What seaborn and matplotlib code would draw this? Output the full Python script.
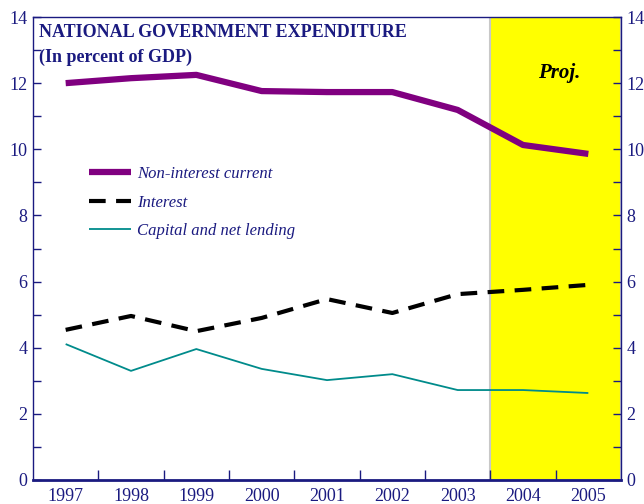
import pandas as pd
import matplotlib
matplotlib.use("Agg")
import matplotlib.pyplot as plt
import seaborn as sns

years = [1997, 1998, 1999, 2000, 2001, 2002, 2003, 2004, 2005]
non_interest = [12.0, 12.15, 12.25, 11.76, 11.73, 11.73, 11.19, 10.13, 9.86]
interest = [4.54, 4.96, 4.5, 4.9, 5.47, 5.05, 5.62, 5.75, 5.9]
capital = [4.11, 3.3, 3.96, 3.36, 3.02, 3.2, 2.72, 2.72, 2.63]

df = pd.DataFrame({'year': years, 'Non-interest current': non_interest,
                   'Interest': interest, 'Capital and net lending': capital})

sns.set_style("ticks")
plt.rcParams['font.family'] = ['Liberation Serif', 'DejaVu Serif']
navy = '#1a1a80'

fig = plt.figure(figsize=(6.44, 5.04), dpi=100)
ax = fig.add_axes([33 / 644, 24 / 504, 588 / 644, 463 / 504])

ax.axvspan(2003.5, 2005.5, facecolor='#ffff00', edgecolor='#c8c8c8', lw=1.5, zorder=0)

sns.lineplot(data=df, x='year', y='Non-interest current', ax=ax, color='#800080', lw=4.5,
             solid_capstyle='butt', label='Non-interest current')
sns.lineplot(data=df, x='year', y='Interest', ax=ax, color='black', lw=3,
             linestyle=(0, (4, 2.5)), label='Interest')
sns.lineplot(data=df, x='year', y='Capital and net lending', ax=ax, color='#008b8b', lw=1.3,
             solid_capstyle='butt', label='Capital and net lending')

ax.set_xlim(1996.5, 2005.5)
ax.set_ylim(0, 14)
ax.set_xlabel('')
ax.set_ylabel('')

ax.set_xticks([y + 0.5 for y in years[:-1]])
ax.set_xticklabels([])
ax.set_xticks(years, minor=True)
ax.set_xticklabels([str(y) for y in years], minor=True)
ax.tick_params(axis='x', which='major', direction='in', length=7, color=navy, width=1)
ax.tick_params(axis='x', which='minor', length=0, pad=6, labelsize=13, labelcolor=navy)

ax.set_yticks(range(0, 15, 2))
ax.set_yticks(range(1, 14, 2), minor=True)
ax.tick_params(axis='y', which='both', direction='in', length=6, color=navy, width=1,
               labelsize=13, labelcolor=navy, right=True, labelright=True, pad=4)

for s in ax.spines.values():
    s.set_color(navy)
    s.set_linewidth(1)
ax.spines['bottom'].set_linewidth(2)

ax.text(0.01, 0.985, 'NATIONAL GOVERNMENT EXPENDITURE\n(In percent of GDP)', transform=ax.transAxes,
        ha='left', va='top', fontsize=13, fontweight='bold', color=navy, linespacing=1.55)
ax.text(2004.55, 12.3, 'Proj.', ha='center', va='center', fontsize=15, fontweight='bold',
        fontstyle='italic', color='black')

leg = ax.legend(loc='upper left', bbox_to_anchor=(0.07, 0.71), frameon=False,
                handlelength=2.5, handletextpad=0.35, labelspacing=0.75,
                prop={'size': 12, 'style': 'italic'})
for t in leg.get_texts():
    t.set_color(navy)

fig.savefig('out.png', dpi=100)
